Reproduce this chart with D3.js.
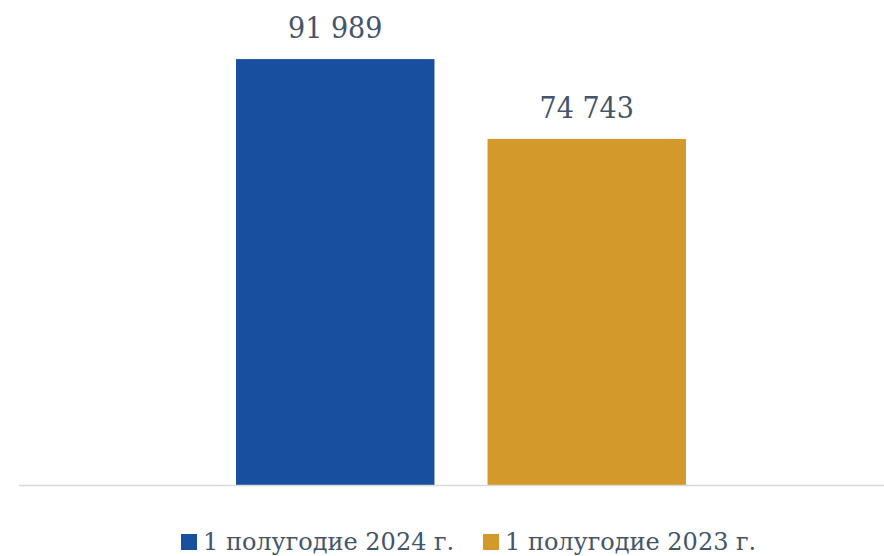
<!DOCTYPE html>
<html lang="ru">
<head>
    <meta charset="UTF-8">
    <title>Bar chart</title>
    <style>
        body { margin: 0; background: #fff; }
        svg text { font-family: "DejaVu Serif Condensed", "DejaVu Serif", serif; fill: #44546a; }
        svg .legtext { font-family: "DejaVu Serif", serif; }
    </style>
</head>
<body>
<svg></svg>
<script src="https://d3js.org/d3.v7.min.js"></script>
<script>
    /* data */
    const categories = ["1 полугодие 2024 г.", "1 полугодие 2023 г."];
    const values = [91989, 74743];
    const colors = ["#184f9f", "#d3992b"];

    /* layout */
    const width = 884;
    const height = 556;

    const svg = d3.select("svg")
        .attr("width", width)
        .attr("height", height);

    const x = d3.scaleBand()
        .domain(categories)
        .range([236, 686])
        .paddingInner(0.211)
        .paddingOuter(0);

    const y = d3.scaleLinear()
        .domain([0, 100000])
        .range([485, 22]);

    const fmt = v => d3.format(",")(v).replace(/,/g, " ");

    /* bars */
    svg.selectAll(".bar").data(values).enter().append("rect")
        .attr("class", "bar")
        .attr("x", (d, i) => x(categories[i]))
        .attr("y", d => y(d))
        .attr("width", x.bandwidth())
        .attr("height", d => y(0) - y(d))
        .attr("fill", (d, i) => colors[i]);

    /* baseline */
    svg.append("line")
        .attr("x1", 19).attr("x2", width)
        .attr("y1", y(0) + 0.5).attr("y2", y(0) + 0.5)
        .attr("stroke", "#d9d9d9")
        .attr("stroke-width", 1.5);

    /* value labels */
    svg.selectAll(".lbl").data(values).enter().append("text")
        .attr("class", "lbl")
        .attr("x", (d, i) => x(categories[i]) + x.bandwidth() / 2)
        .attr("y", d => y(d) - 21)
        .attr("text-anchor", "middle")
        .style("font-size", "30px")
        .text(fmt);

    /* legend */
    const legendX = [181, 483];
    const leg = svg.selectAll(".leg").data(categories).enter().append("g")
        .attr("transform", (d, i) => `translate(${legendX[i]},534)`);
    leg.append("rect")
        .attr("width", 16).attr("height", 16)
        .attr("fill", (d, i) => colors[i]);
    leg.append("text")
        .attr("class", "legtext")
        .attr("x", 22)
        .attr("y", 16)
        .style("font-size", "24px")
        .text(d => d);
</script>
</body>
</html>
